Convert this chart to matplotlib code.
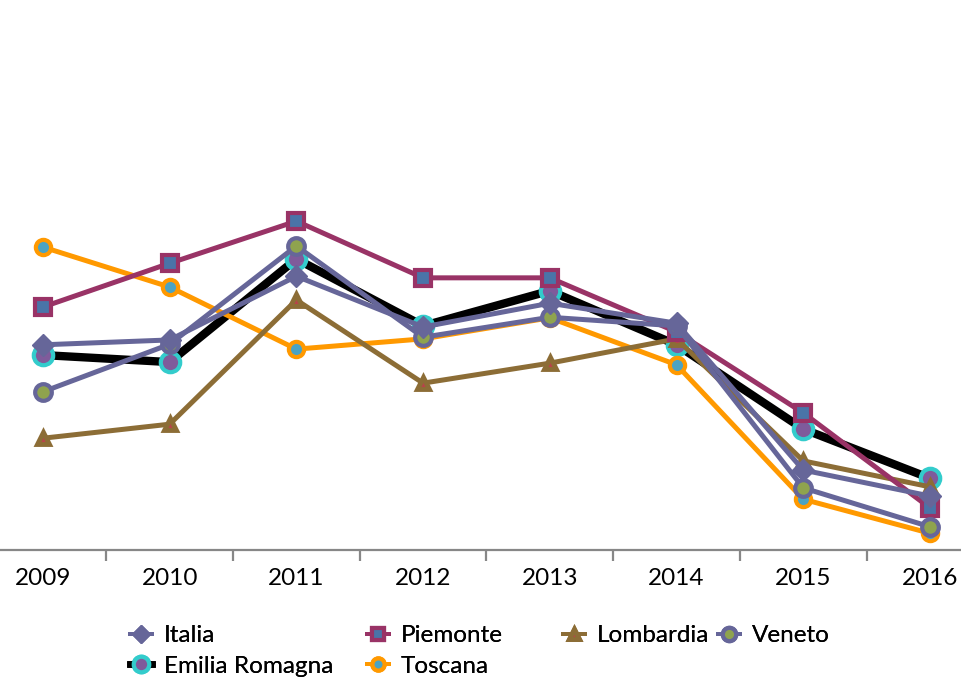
import matplotlib
matplotlib.use("Agg")
import matplotlib.pyplot as plt
from matplotlib.lines import Line2D

plt.rcParams['font.family'] = ['Lato', 'DejaVu Sans']

anni = ['2009', '2010', '2011', '2012', '2013', '2014', '2015', '2016']

italia = [38.0, 38.9, 50.7, 41.3, 45.7, 42.0, 14.8, 10.0]
piemonte = [45.0, 53.1, 60.9, 50.4, 50.4, 40.4, 25.4, 7.8]
lombardia = [20.7, 23.3, 46.3, 30.9, 34.6, 39.1, 16.5, 11.7]
veneto = [29.3, 38.1, 56.3, 39.4, 43.1, 41.5, 11.5, 4.3]
emilia = [36.1, 34.8, 53.9, 41.5, 48.0, 38.0, 22.4, 13.3]
toscana = [56.1, 48.7, 37.2, 39.1, 43.0, 34.3, 9.4, 3.1]

x = list(range(len(anni)))

fig = plt.figure(figsize=(9.62, 6.78), dpi=100)
# l'asse e' "tagliato" ai lati come nell'originale
ax = fig.add_axes([-20.4 / 962, 128 / 678, 1013.7 / 962, 540 / 678])

# stili: (dati, nome, colore linea, marker, size, bordo, riempimento, spessore, z)
serie = [
    (emilia, 'Emilia Romagna', 'black', 'o', 14, '#33CCCC', '#7F5B9B', 6.0, 2),
    (toscana, 'Toscana', '#FF9900', 'o', 11, '#FF9900', '#4BA3C3', 3.6, 3),
    (lombardia, 'Lombardia', '#8C6D36', '^', 9, '#8C6D36', '#B8434A', 3.6, 4),
    (piemonte, 'Piemonte', '#993366', 's', 11, '#993366', '#4A74A8', 3.6, 5),
    (veneto, 'Veneto', '#666699', 'o', 12, '#666699', '#8FA34E', 3.6, 6),
    (italia, 'Italia', '#666699', 'D', 11, '#666699', '#666699', 3.6, 7),
]

handles = {}
for dati, nome, col, mk, ms, ec, fc, lw, z in serie:
    mew = 3 if mk != 'D' else 1
    if mk == '^':
        mew = 3.5
    ax.plot(x, dati, color=col, lw=lw, marker=mk, markersize=ms,
            markeredgecolor=ec, markerfacecolor=fc, markeredgewidth=mew,
            zorder=z, solid_joinstyle='round')
    handles[nome] = Line2D([], [], color=col, lw=lw * 0.8, marker=mk,
                           markersize=ms * 0.8, markeredgecolor=ec,
                           markerfacecolor=fc, markeredgewidth=mew)

ax.set_xlim(-0.5, 7.5)
ax.set_ylim(0, 100)
ax.set_yticks([])
for s in ['left', 'right', 'top']:
    ax.spines[s].set_visible(False)
ax.spines['bottom'].set_color('#878787')
ax.spines['bottom'].set_linewidth(1.6)

ax.set_xticks(x)
ax.set_xticklabels(anni, fontsize=17.5)
ax.tick_params(axis='x', which='major', length=0, pad=13)
ax.set_xticks([i + 0.5 for i in range(-1, 8)], minor=True)
ax.tick_params(axis='x', which='minor', length=8, width=1.6,
               color='#878787', direction='out')

# legenda: quattro colonne posizionate come nell'originale
colonne = [
    (141, ['Italia', 'Emilia Romagna']),
    (378, ['Piemonte', 'Toscana']),
    (574, ['Lombardia']),
    (729, ['Veneto']),
]
for xc, nomi in colonne:
    leg = fig.legend([handles[n] for n in nomi], nomi, loc='upper left',
                     bbox_to_anchor=((xc - 11) / 962, (678 - 625) / 678),
                     frameon=False, fontsize=17.5, handlelength=0.9,
                     handletextpad=0.5, labelspacing=0.4,
                     borderpad=0, borderaxespad=0)
    fig.add_artist(leg)

fig.savefig('out.png', dpi=100)
